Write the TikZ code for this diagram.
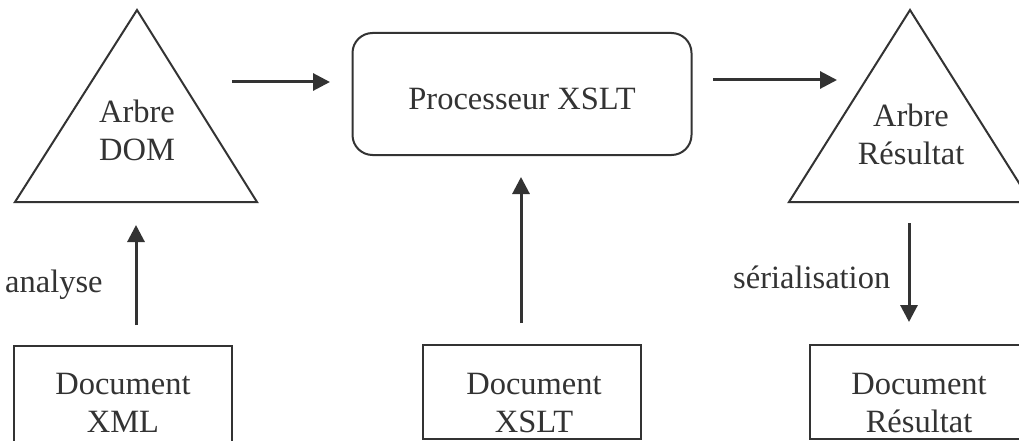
\documentclass[tikz,border=0pt]{standalone}
\usepackage{fontspec}
\setmainfont{Liberation Serif}
\usetikzlibrary{arrows.meta}
\definecolor{ink}{HTML}{333333}
\begin{document}
\begin{tikzpicture}[x=1pt,y=-1pt,
  font=\fontsize{32.5}{38}\selectfont, text=ink,
  shapeline/.style={draw=ink, line width=2pt, line join=miter},
  conn/.style={draw=ink, line width=3pt, -{Triangle[length=17pt,width=17pt]}},
  lbl/.style={align=center, inner sep=0pt},
  docbox/.style={draw=ink, line width=2pt, minimum width=218pt, minimum height=94pt, inner sep=0pt},
  procbox/.style={draw=ink, line width=2pt, rounded corners=20pt, minimum width=339pt, minimum height=122pt, text height=32pt, text depth=0pt, inner sep=0pt}
]
\clip (0,0) rectangle (1019,441);
\fill[white] (0,0) rectangle (1019,441);

% triangles
\draw[shapeline] (137,10) -- (257,202) -- (15,202) -- cycle;
\draw[shapeline] (910,10) -- (1031,202) -- (789,202) -- cycle;
\node[lbl] (dom) at (137,130) {Arbre\\DOM};
\node[lbl] (res) at (911,134) {Arbre\\Résultat};

% processor
\node[procbox] (proc) at (522,94) {Processeur XSLT};

% document boxes
\node[docbox, minimum height=98pt] (xmlbox) at (123,395) {};
\node[docbox] (xsltbox) at (531.5,392) {};
\node[docbox] (resbox) at (919,392) {};
\node[lbl] (xmltxt) at (123,403) {Document\\XML};
\node[lbl] (xslttxt) at (534,403) {Document\\XSLT};
\node[lbl] (restxt) at (919,403) {Document\\Résultat};

% labels
\node[anchor=base west, inner sep=0pt] (an) at (5,292) {analyse};
\node[anchor=base west, inner sep=0pt] (ser) at (733,288) {sérialisation};

% connector end points
\coordinate (domout) at (232,82);
\coordinate (procin) at (330,82);
\coordinate (procout) at (713,80);
\coordinate (resin) at (837,80);
\coordinate (xmlout) at (136,325);
\coordinate (domin) at (136,225);
\coordinate (xsltout) at (521,323);
\coordinate (procbot) at (521,177);
\coordinate (resout) at (909,223);
\coordinate (resdocin) at (909,322);

\draw[conn] (domout) -- (procin);
\draw[conn] (procout) -- (resin);
\draw[conn] (xmlout) -- (domin);
\draw[conn] (xsltout) -- (procbot);
\draw[conn] (resout) -- (resdocin);
\end{tikzpicture}
\end{document}
